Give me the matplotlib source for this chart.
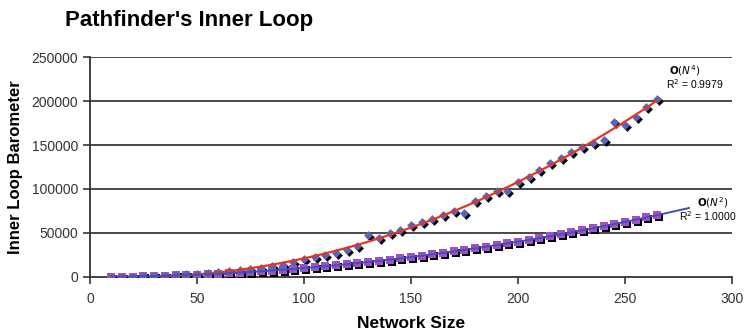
import numpy as np
import matplotlib
matplotlib.use("Agg")
import matplotlib.pyplot as plt
import matplotlib.transforms as mtransforms

plt.rcParams['font.family'] = ['Liberation Sans', 'DejaVu Sans']

# ---- data ----
network_size = list(range(10, 270, 5))
inner_loop_quartic = [0, 100, 300, 600, 1000, 1500, 2000, 2800, 3500, 4500,
                      5500, 6500, 8000, 9000, 10500, 12000, 13600, 17000, 20500, 22700,
                      25000, 27300, 30700, 35000, 47700, 44300, 50000, 53400, 59000, 62500,
                      65900, 70400, 75000, 72700, 86300, 92000, 97700, 97700, 108000, 113600,
                      121500, 129500, 135000, 142000, 148000, 152000, 155600, 176000, 172700, 182000,
                      193000, 202000]
inner_loop_quadratic = [100, 225, 400, 625, 900, 1225, 1600, 2025, 2500, 3025,
                        3600, 4225, 4900, 5625, 6400, 7225, 8100, 9025, 10000, 11025,
                        12100, 13225, 14400, 15625, 16900, 18225, 19600, 21025, 22500, 24025,
                        25600, 27225, 28900, 30625, 32400, 34225, 36100, 38025, 40000, 42025,
                        44100, 46225, 48400, 50625, 52900, 55225, 57600, 60025, 62500, 65025,
                        67600, 70225]
x_ticks = [0, 50, 100, 150, 200, 250, 300]
y_ticks = [0, 50000, 100000, 150000, 200000, 250000]
label_quartic = r"$\mathbf{O}(\mathit{N}^{4})$"
label_quadratic = r"$\mathbf{O}(\mathit{N}^{2})$"
r2_quartic = "R$^2$ = 0.9979"
r2_quadratic = "R$^2$ = 1.0000"

fig = plt.figure(figsize=(7.46, 3.34), dpi=100)
ax = fig.add_axes([0.1206, 0.171, 0.8605, 0.658])

x = np.array(network_size, dtype=float)
yq = np.array(inner_loop_quartic, dtype=float)
y2 = np.array(inner_loop_quadratic, dtype=float)

# gridlines
for yt in y_ticks[1:]:
    ax.axhline(yt, color='#3a3a3a', lw=1.3, zorder=1)

shadow = mtransforms.offset_copy(ax.transData, fig=fig, x=2.0, y=-2.0, units='dots')

# quadratic series (squares)
ax.scatter(x, y2, marker='s', s=26, color='black', transform=shadow, zorder=3, linewidths=0)
ax.scatter(x, y2, marker='s', s=26, color='#a24fc4', zorder=4, linewidths=0)
# quartic series (diamonds)
ax.scatter(x, yq, marker='D', s=20, color='black', transform=shadow, zorder=3, linewidths=0)
ax.scatter(x, yq, marker='D', s=20, color='#5566bb', zorder=4, linewidths=0)

# trendlines fitted from the data
cq = np.polyfit(x, yq, 2)
xx = np.linspace(10, 265, 200)
ax.plot(xx, np.polyval(cq, xx), color='#e8341f', lw=1.6, zorder=5)
c2 = np.polyfit(x, y2, 2)
xx2 = np.linspace(10, 280, 200)
ax.plot(xx2, np.polyval(c2, xx2), color='#3d4fc0', lw=1.4, zorder=5)

ax.set_xlim(0, 300)
ax.set_ylim(0, 250000)
ax.set_xticks(x_ticks)
ax.set_yticks(y_ticks)
ax.set_xticklabels([str(t) for t in x_ticks])
ax.set_yticklabels([str(t) for t in y_ticks])
ax.tick_params(axis='both', direction='out', length=5, width=1.2, color='#333333',
               labelsize=10, labelcolor='#333333')
ax.tick_params(axis='x', pad=6)
for s in ['top', 'right']:
    ax.spines[s].set_visible(False)
for s in ['left', 'bottom']:
    ax.spines[s].set_color('#333333')
    ax.spines[s].set_linewidth(1.3)

ax.set_xlabel("Network Size", fontsize=12.5, fontweight='bold', labelpad=7)
ax.set_ylabel("Inner Loop Barometer", fontsize=12, fontweight='bold', labelpad=6)

fig.text(0.087, 0.94, "Pathfinder's Inner Loop", fontsize=16, fontweight='bold',
         ha='left', va='center')

ax.text(278, 234500, label_quartic, fontsize=7.5, ha='center', va='center')
ax.text(296, 219000, r2_quartic, fontsize=7.5, ha='right', va='center')
ax.text(291, 84500, label_quadratic, fontsize=7.5, ha='center', va='center', clip_on=False)
ax.text(302, 69500, r2_quadratic, fontsize=7.5, ha='right', va='center', clip_on=False)

fig.savefig("out.png", dpi=100)
